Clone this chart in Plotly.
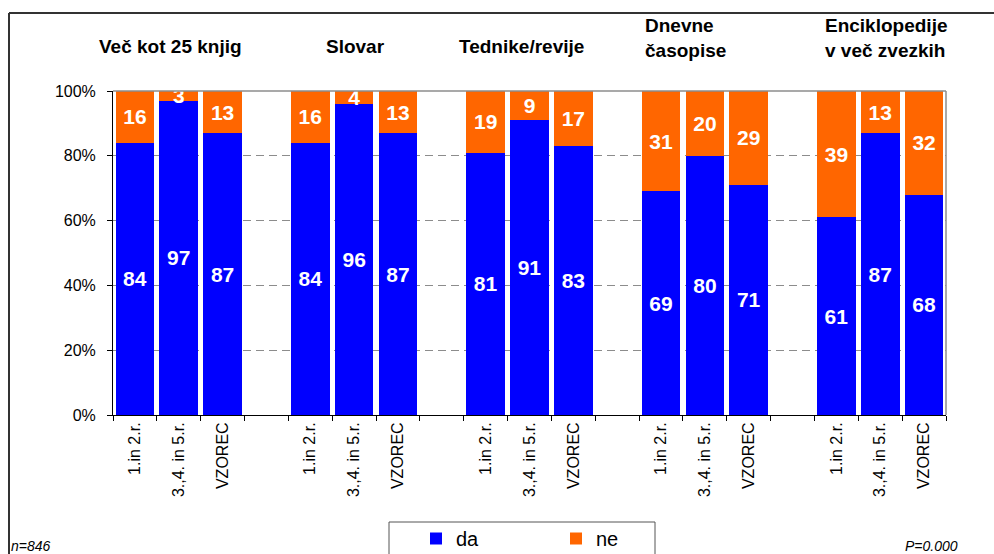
import plotly.graph_objects as go

# Survey answers (%) per item and per pupil group
items = ["Več kot 25 knjig", "Slovar", "Tednike/revije",
         "Dnevne<br>časopise", "Enciklopedije<br>v več zvezkih"]
groups = ["1.in 2.r.", "3.,4. in 5.r.", "VZOREC"]
da = [[84, 97, 87], [84, 96, 87], [81, 91, 83], [69, 80, 71], [61, 87, 68]]
ne = [[16, 3, 13], [16, 4, 13], [19, 9, 17], [31, 20, 29], [39, 13, 32]]
y_ticks = [0, 20, 40, 60, 80, 100]
sample_note = "n=846"
p_note = "P=0.000"

FONT = "Liberation Sans, Arial, sans-serif"
BLUE = "#0000FF"
ORANGE = "#FF6600"

# Category slots: three bars per item, one empty slot between items
cats, labels, da_vals, ne_vals = [], [], [], []
for i in range(len(items)):
    for j, g in enumerate(groups):
        cats.append(f"i{i}g{j}")
        labels.append(g)
        da_vals.append(da[i][j])
        ne_vals.append(ne[i][j])
    if i < len(items) - 1:
        cats.append(f"gap{i}")
        labels.append("")
        da_vals.append(None)
        ne_vals.append(None)

def txt(vals):
    return ["" if v is None else str(v) for v in vals]

fig = go.Figure()
for name, vals, color in (("da", da_vals, BLUE), ("ne", ne_vals, ORANGE)):
    fig.add_trace(go.Bar(
        x=cats, y=vals, name=name,
        marker=dict(color=color, line=dict(width=0)),
        text=txt(vals), textposition="inside", insidetextanchor="middle",
        textangle=0,
        textfont=dict(family=FONT, size=21, color="white", weight="bold"),
        hoverinfo="skip",
    ))

W, H = 994, 554
L, R, T, B = 113, 48, 91, 139
pw, ph = W - L - R, H - T - B

def px_x(p):
    return (p - L) / pw

def px_y(p):
    return (H - B - p) / ph

# Item titles above each group of bars: (left/centre x, bottom y, anchor)
title_pos = [(170, 59, "center"), (355, 59, "center"), (521, 59, "center"),
             (643, 63, "left"), (823, 63, "left")]
annotations = []
for title, (xp, yp, anchor) in zip(items, title_pos):
    annotations.append(dict(
        text=f"<b>{title}</b>", xref="paper", yref="paper",
        x=px_x(xp), y=px_y(yp), xanchor=anchor, yanchor="bottom",
        align="left", showarrow=False,
        font=dict(family=FONT, size=19, color="black"),
    ))
annotations.append(dict(
    text=f"<i>{sample_note}</i>", xref="paper", yref="paper",
    x=px_x(9), y=px_y(536), xanchor="left", yanchor="top",
    showarrow=False, font=dict(family=FONT, size=14, color="black")))
annotations.append(dict(
    text=f"<i>{p_note}</i>", xref="paper", yref="paper",
    x=px_x(960), y=px_y(536), xanchor="right", yanchor="top",
    showarrow=False, font=dict(family=FONT, size=14, color="black")))

shapes = [
    # grey frame of the plot area (top and right)
    dict(type="line", xref="paper", yref="paper", x0=0, x1=1, y0=1, y1=1,
         line=dict(color="#8c8c8c", width=1.5)),
    dict(type="line", xref="paper", yref="paper", x0=1, x1=1, y0=0, y1=1,
         line=dict(color="#8c8c8c", width=1.5)),
    # outer chart border
    dict(type="line", xref="paper", yref="paper", x0=px_x(9), x1=px_x(1010),
         y0=px_y(13), y1=px_y(13), line=dict(color="#333333", width=2)),
    dict(type="line", xref="paper", yref="paper", x0=px_x(9), x1=px_x(9),
         y0=px_y(13), y1=px_y(570), line=dict(color="#333333", width=2)),
    # legend frame
    dict(type="rect", xref="paper", yref="paper", x0=px_x(389), x1=px_x(655),
         y0=px_y(522), y1=px_y(570), line=dict(color="#555555", width=1),
         layer="below"),
]

fig.update_layout(
    width=W, height=H,
    margin=dict(l=L, r=R, t=T, b=B, pad=0, autoexpand=False),
    paper_bgcolor="white", plot_bgcolor="white",
    barmode="stack", bargap=0.12,
    uniformtext=dict(mode="show", minsize=21),
    font=dict(family=FONT, color="black"),
    showlegend=True,
    legend=dict(
        orientation="h", x=px_x(416), xanchor="left", y=px_y(519), yanchor="top",
        borderwidth=0, bgcolor="rgba(0,0,0,0)",
        font=dict(family=FONT, size=20, color="black"),
        entrywidth=95, entrywidthmode="pixels", traceorder="normal",
    ),
    annotations=annotations, shapes=shapes,
)
fig.update_xaxes(
    type="category", categoryorder="array", categoryarray=cats,
    tickmode="array", tickvals=cats, ticktext=labels,
    tickson="boundaries", ticks="outside", ticklen=5, tickcolor="black",
    tickangle=-90, tickfont=dict(family=FONT, size=16, color="black"),
    showline=True, linecolor="black", linewidth=1, showgrid=False,
    range=[-0.5, len(cats) - 0.5], automargin=False,
)
fig.update_yaxes(
    range=[0, 100], tickmode="array", tickvals=y_ticks,
    ticktext=[f"{v}%" for v in y_ticks],
    ticks="outside", ticklen=5, tickcolor="black",
    tickfont=dict(family=FONT, size=16, color="black"),
    showline=True, linecolor="black", linewidth=1,
    showgrid=True, gridcolor="#8c8c8c", griddash="8px,5px", gridwidth=1,
    zeroline=False, ticklabelstandoff=8, automargin=False,
)

fig.write_html("out.html")
